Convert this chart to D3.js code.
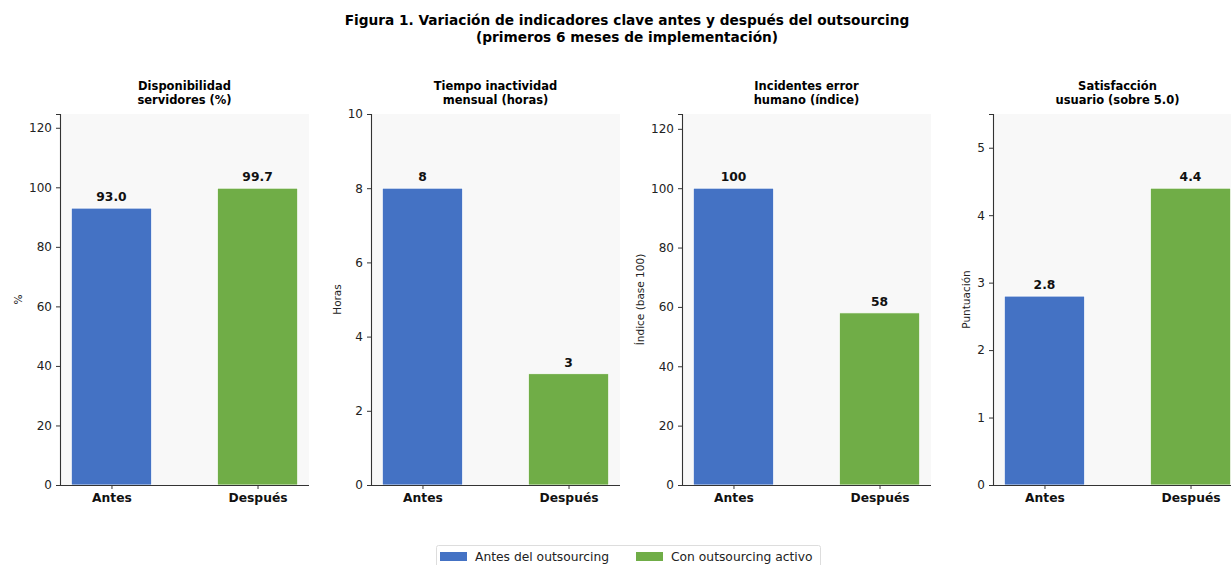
<!DOCTYPE html>
<html>
<head>
<meta charset="utf-8">
<script src="https://cdn.jsdelivr.net/npm/d3@7"></script>
<style>
  body { margin: 0; background: #ffffff; }
  svg { display: block; font-family: "DejaVu Sans", sans-serif; }
</style>
</head>
<body>
<svg id="chart" width="1231" height="565"></svg>
<script>
// Indicator panels
const panelTitles = [
  ["Disponibilidad", "servidores (%)"],
  ["Tiempo inactividad", "mensual (horas)"],
  ["Incidentes error", "humano (índice)"],
  ["Satisfacción", "usuario (sobre 5.0)"]
];
const yLabels = ["%", "Horas", "Índice (base 100)", "Puntuación"];
const categories = ["Antes", "Después"];
const valuesAntes = [93.0, 8, 100, 2.8];
const valuesDespues = [99.7, 3, 58, 4.4];
const valueFormats = [".1f", "d", "d", ".1f"];
const yTicks = [
  [0, 20, 40, 60, 80, 100, 120],
  [0, 2, 4, 6, 8, 10],
  [0, 20, 40, 60, 80, 100, 120],
  [0, 1, 2, 3, 4, 5]
];
const seriesNames = ["Antes del outsourcing", "Con outsourcing activo"];
const colors = ["#4472C4", "#70AD47"];

const svg = d3.select("#chart");

// Figure title
svg.append("text").attr("x", 627).attr("y", 25).attr("text-anchor", "middle")
  .attr("font-size", 13.7).attr("font-weight", "bold").attr("fill", "#000")
  .text("Figura 1. Variación de indicadores clave antes y después del outsourcing");
svg.append("text").attr("x", 627).attr("y", 42).attr("text-anchor", "middle")
  .attr("font-size", 13.7).attr("font-weight", "bold").attr("fill", "#000")
  .text("(primeros 6 meses de implementación)");

const axW = 249, axTop = 114, axBottom = 485;
const axLefts = [60, 371, 682, 993];
const barWidth = 0.55;

panelTitles.forEach((title, i) => {
  const left = axLefts[i];
  const vals = [valuesAntes[i], valuesDespues[i]];
  const yMax = d3.max(vals) * 1.25;
  const pad = (1 + barWidth) * 0.05;
  const x = d3.scaleLinear()
    .domain([-barWidth / 2 - pad, 1 + barWidth / 2 + pad])
    .range([left, left + axW]);
  const y = d3.scaleLinear().domain([0, yMax]).range([axBottom, axTop]);

  const g = svg.append("g");

  // plot background
  g.append("rect").attr("x", left).attr("y", axTop)
    .attr("width", axW).attr("height", axBottom - axTop).attr("fill", "#f8f8f8");

  // bars
  g.selectAll("rect.bar").data(vals).join("rect").attr("class", "bar")
    .attr("x", (d, j) => x(j - barWidth / 2))
    .attr("width", x(barWidth) - x(0))
    .attr("y", d => y(d))
    .attr("height", d => y(0) - y(d))
    .attr("fill", (d, j) => colors[j])
    .attr("stroke", "#ffffff").attr("stroke-width", 0.8);

  // value labels
  g.selectAll("text.val").data(vals).join("text").attr("class", "val")
    .attr("x", (d, j) => x(j))
    .attr("y", d => y(d) - 7)
    .attr("text-anchor", "middle")
    .attr("font-size", 12.3).attr("font-weight", "bold").attr("fill", "#111")
    .text(d => d3.format(valueFormats[i])(d));

  // y axis
  const yAxis = g.append("g").attr("transform", `translate(${left},0)`)
    .call(d3.axisLeft(y).tickValues(yTicks[i]).tickSize(4).tickPadding(4).tickFormat(d3.format("d")));
  yAxis.select(".domain").attr("stroke", "#333").attr("stroke-width", 1.1);
  yAxis.selectAll(".tick line").attr("stroke", "#333");
  yAxis.selectAll(".tick text").attr("font-size", 12).attr("fill", "#222")
    .attr("font-family", "DejaVu Sans, sans-serif");

  // x axis
  const xAxis = g.append("g").attr("transform", `translate(0,${axBottom})`)
    .call(d3.axisBottom(x).tickValues([0, 1]).tickSize(4).tickPadding(4)
      .tickFormat(d => categories[d]));
  xAxis.select(".domain").attr("stroke", "#333").attr("stroke-width", 1.1)
    .attr("d", `M${left},0.5H${left + axW}`);
  xAxis.selectAll(".tick line").attr("stroke", "#333");
  xAxis.selectAll(".tick text").attr("font-size", 12.3).attr("font-weight", "bold")
    .attr("fill", "#111").attr("font-family", "DejaVu Sans, sans-serif");

  // panel title
  title.forEach((line, k) => {
    g.append("text").attr("x", left + axW / 2).attr("y", 90 + k * 14)
      .attr("text-anchor", "middle").attr("font-size", 11.5).attr("font-weight", "bold")
      .attr("fill", "#000").text(line);
  });

  // y label, placed just outside the widest tick label
  let tickW = 0;
  yAxis.selectAll(".tick text").each(function () {
    tickW = Math.max(tickW, this.getComputedTextLength());
  });
  g.append("text")
    .attr("transform", `translate(${left - tickW - 15},${(axTop + axBottom) / 2}) rotate(-90)`)
    .attr("text-anchor", "middle").attr("font-size", 10.5).attr("fill", "#222")
    .text(yLabels[i]);
});

// legend
const legend = svg.append("g");
legend.append("rect").attr("x", 436.5).attr("y", 545.5).attr("width", 384).attr("height", 26)
  .attr("rx", 2).attr("fill", "#fff").attr("stroke", "#ddd");
const legendX = [440, 636];
seriesNames.forEach((name, j) => {
  legend.append("rect").attr("x", legendX[j]).attr("y", 552).attr("width", 27).attr("height", 9)
    .attr("fill", colors[j]);
  legend.append("text").attr("x", legendX[j] + 35).attr("y", 561)
    .attr("font-size", 12.3).attr("fill", "#222").text(name);
});
</script>
</body>
</html>
